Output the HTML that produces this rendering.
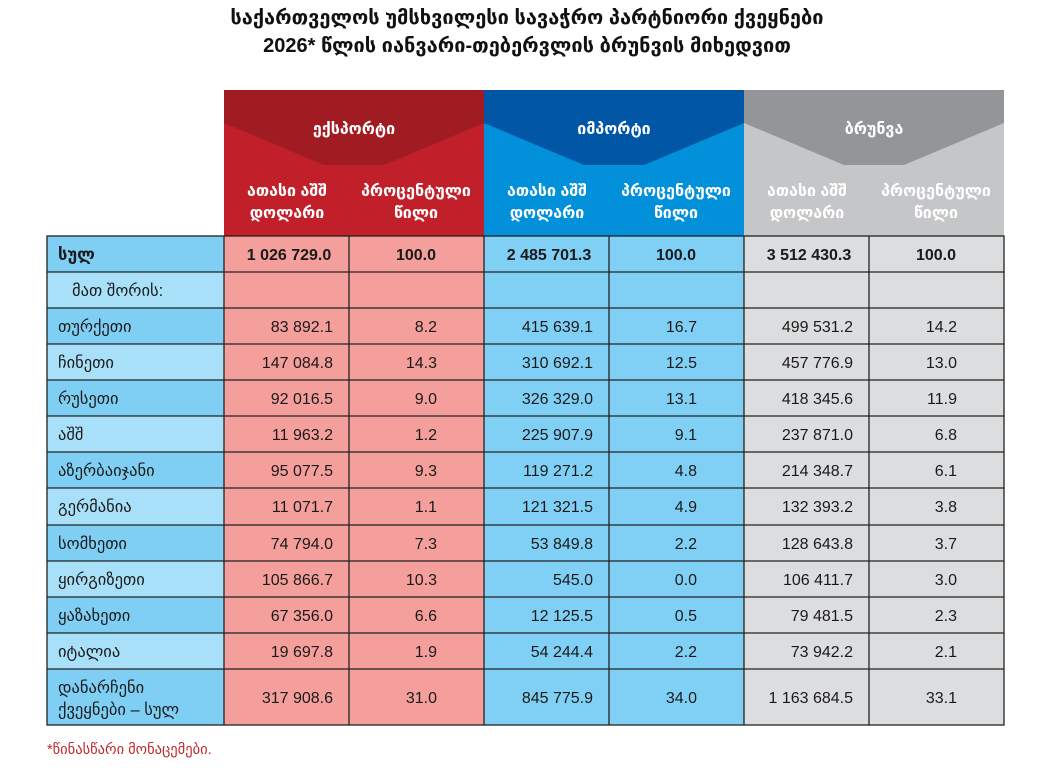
<!DOCTYPE html>
<html><head><meta charset="utf-8">
<style>
html,body{margin:0;padding:0;background:#fff;width:1044px;height:775px;overflow:hidden}
svg{display:block}
text{font-family:"Liberation Sans","DejaVu Sans",sans-serif}
.n{font-size:16px;fill:#1a1a1a;text-anchor:end}
.b{font-size:16px;font-weight:bold;fill:#1a1a1a;text-anchor:middle}
.l{font-size:16.5px;fill:#1a1a1a}
.h{font-size:16px;font-weight:bold;fill:#fff;text-anchor:middle}
.t{font-size:20px;font-weight:bold;fill:#111;text-anchor:middle}
</style></head><body>
<svg width="1044" height="775" xmlns="http://www.w3.org/2000/svg">
<text class="t" x="527" y="24">საქართველოს უმსხვილესი სავაჭრო პარტნიორი ქვეყნები</text>
<text class="t" x="527" y="52">2026* წლის იანვარი-თებერვლის ბრუნვის მიხედვით</text>

<rect x="224" y="90" width="260" height="146" fill="#c1202b"/>
<polygon points="224,90 484,90 484,123 384,165 324,165 224,123" fill="#a01b22"/>
<rect x="484" y="90" width="260" height="146" fill="#0190d9"/>
<polygon points="484,90 744,90 744,123 644,165 584,165 484,123" fill="#0256a6"/>
<rect x="744" y="90" width="260" height="146" fill="#c5c6c8"/>
<polygon points="744,90 1004,90 1004,123 904,165 844,165 744,123" fill="#939598"/>
<text class="h" x="354" y="134">ექსპორტი</text>
<text class="h" x="614" y="134">იმპორტი</text>
<text class="h" x="874" y="134">ბრუნვა</text>
<text class="h" x="287" y="196">ათასი აშშ</text><text class="h" x="287" y="218">დოლარი</text>
<text class="h" x="416" y="196">პროცენტული</text><text class="h" x="416" y="218">წილი</text>
<text class="h" x="547" y="196">ათასი აშშ</text><text class="h" x="547" y="218">დოლარი</text>
<text class="h" x="676" y="196">პროცენტული</text><text class="h" x="676" y="218">წილი</text>
<text class="h" x="807" y="196">ათასი აშშ</text><text class="h" x="807" y="218">დოლარი</text>
<text class="h" x="936" y="196">პროცენტული</text><text class="h" x="936" y="218">წილი</text>

<rect x="47" y="236" width="177" height="489" fill="#7fcff5"/>
<rect x="47" y="272" width="177" height="36" fill="#a9e0f9"/>
<rect x="47" y="344" width="177" height="36" fill="#a9e0f9"/>
<rect x="47" y="416" width="177" height="36" fill="#a9e0f9"/>
<rect x="47" y="488" width="177" height="37" fill="#a9e0f9"/>
<rect x="47" y="561" width="177" height="36" fill="#a9e0f9"/>
<rect x="47" y="633" width="177" height="36" fill="#a9e0f9"/>
<rect x="224" y="236" width="260" height="489" fill="#f49f9b"/>
<rect x="484" y="236" width="260" height="489" fill="#80d0f5"/>
<rect x="744" y="236" width="260" height="489" fill="#dcdddf"/>
<g stroke="#222" stroke-width="1.3" fill="none">
<rect x="47" y="236" width="957" height="489"/>
<path d="M47 272H1004M47 308H1004M47 344H1004M47 380H1004M47 416H1004M47 452H1004M47 488H1004M47 525H1004M47 561H1004M47 597H1004M47 633H1004M47 669H1004"/>
<path d="M224 236V725M349 236V725M484 236V725M609 236V725M744 236V725M869 236V725"/>
</g>

<text class="l" x="58" y="260" font-weight="bold">სულ</text>
<text class="b" x="289" y="260">1 026 729.0</text>
<text class="b" x="416" y="260">100.0</text>
<text class="b" x="549" y="260">2 485 701.3</text>
<text class="b" x="676" y="260">100.0</text>
<text class="b" x="809" y="260">3 512 430.3</text>
<text class="b" x="936" y="260">100.0</text>
<text class="l" x="72" y="296">მათ შორის:</text>

<text class="l" x="58" y="332">თურქეთი</text>
<text class="n" x="333" y="332">83 892.1</text><text class="n" x="437" y="332">8.2</text>
<text class="n" x="593" y="332">415 639.1</text><text class="n" x="697" y="332">16.7</text>
<text class="n" x="853" y="332">499 531.2</text><text class="n" x="957" y="332">14.2</text>

<text class="l" x="58" y="368">ჩინეთი</text>
<text class="n" x="333" y="368">147 084.8</text><text class="n" x="437" y="368">14.3</text>
<text class="n" x="593" y="368">310 692.1</text><text class="n" x="697" y="368">12.5</text>
<text class="n" x="853" y="368">457 776.9</text><text class="n" x="957" y="368">13.0</text>

<text class="l" x="58" y="404">რუსეთი</text>
<text class="n" x="333" y="404">92 016.5</text><text class="n" x="437" y="404">9.0</text>
<text class="n" x="593" y="404">326 329.0</text><text class="n" x="697" y="404">13.1</text>
<text class="n" x="853" y="404">418 345.6</text><text class="n" x="957" y="404">11.9</text>

<text class="l" x="58" y="440">აშშ</text>
<text class="n" x="333" y="440">11 963.2</text><text class="n" x="437" y="440">1.2</text>
<text class="n" x="593" y="440">225 907.9</text><text class="n" x="697" y="440">9.1</text>
<text class="n" x="853" y="440">237 871.0</text><text class="n" x="957" y="440">6.8</text>

<text class="l" x="58" y="476">აზერბაიჯანი</text>
<text class="n" x="333" y="476">95 077.5</text><text class="n" x="437" y="476">9.3</text>
<text class="n" x="593" y="476">119 271.2</text><text class="n" x="697" y="476">4.8</text>
<text class="n" x="853" y="476">214 348.7</text><text class="n" x="957" y="476">6.1</text>

<text class="l" x="58" y="512">გერმანია</text>
<text class="n" x="333" y="512">11 071.7</text><text class="n" x="437" y="512">1.1</text>
<text class="n" x="593" y="512">121 321.5</text><text class="n" x="697" y="512">4.9</text>
<text class="n" x="853" y="512">132 393.2</text><text class="n" x="957" y="512">3.8</text>

<text class="l" x="58" y="549">სომხეთი</text>
<text class="n" x="333" y="549">74 794.0</text><text class="n" x="437" y="549">7.3</text>
<text class="n" x="593" y="549">53 849.8</text><text class="n" x="697" y="549">2.2</text>
<text class="n" x="853" y="549">128 643.8</text><text class="n" x="957" y="549">3.7</text>

<text class="l" x="58" y="585">ყირგიზეთი</text>
<text class="n" x="333" y="585">105 866.7</text><text class="n" x="437" y="585">10.3</text>
<text class="n" x="593" y="585">545.0</text><text class="n" x="697" y="585">0.0</text>
<text class="n" x="853" y="585">106 411.7</text><text class="n" x="957" y="585">3.0</text>

<text class="l" x="58" y="621">ყაზახეთი</text>
<text class="n" x="333" y="621">67 356.0</text><text class="n" x="437" y="621">6.6</text>
<text class="n" x="593" y="621">12 125.5</text><text class="n" x="697" y="621">0.5</text>
<text class="n" x="853" y="621">79 481.5</text><text class="n" x="957" y="621">2.3</text>

<text class="l" x="58" y="657">იტალია</text>
<text class="n" x="333" y="657">19 697.8</text><text class="n" x="437" y="657">1.9</text>
<text class="n" x="593" y="657">54 244.4</text><text class="n" x="697" y="657">2.2</text>
<text class="n" x="853" y="657">73 942.2</text><text class="n" x="957" y="657">2.1</text>

<text class="l" x="58" y="693">დანარჩენი</text>
<text class="l" x="58" y="715">ქვეყნები – სულ</text>
<text class="n" x="333" y="703">317 908.6</text><text class="n" x="437" y="703">31.0</text>
<text class="n" x="593" y="703">845 775.9</text><text class="n" x="697" y="703">34.0</text>
<text class="n" x="853" y="703">1 163 684.5</text><text class="n" x="957" y="703">33.1</text>

<text x="47" y="754" font-size="14.5" fill="#c0282d">*წინასწარი მონაცემები.</text>
</svg>
</body></html>
